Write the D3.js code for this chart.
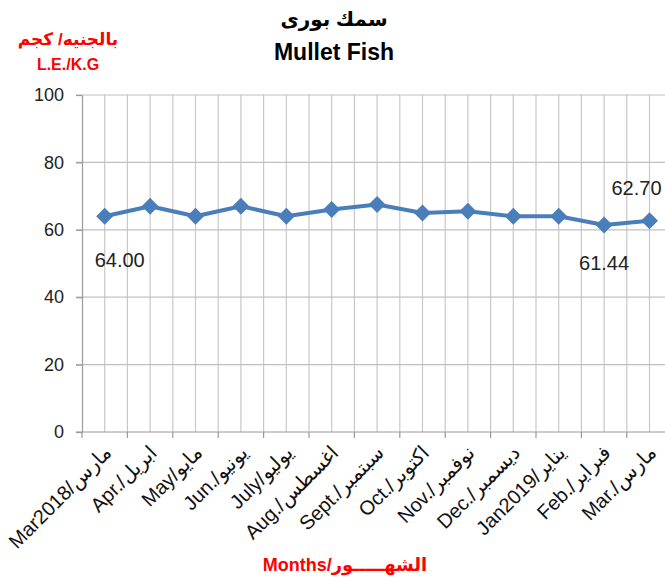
<!DOCTYPE html>
<html>
<head>
<meta charset="utf-8">
<script src="https://d3js.org/d3.v7.min.js"></script>
<style>
  body { margin: 0; background: #fff; }
  text { font-family: "Liberation Sans", Arial, "DejaVu Sans", sans-serif; }
</style>
</head>
<body>
<div id="viz"></div>
<script type="text/javascript">
    // chart data
    var monthsEn = ["Mar2018", "Apr.", "May", "Jun.", "July", "Aug.", "Sept.", "Oct.", "Nov.", "Dec.", "Jan2019", "Feb.", "Mar."];
    var monthsAr = ["مارس", "ابريل", "مايو", "يونيو", "يوليو", "اغسطس", "سبتمبر", "اكتوبر", "نوفمبر", "ديسمبر", "يناير", "فبراير", "مارس"];
    var prices = [64.00, 67, 64, 67, 64, 66, 67.5, 65, 65.5, 64, 64, 61.44, 62.70];
    var yTicks = [0, 20, 40, 60, 80, 100];
    var labelled = [0, 11, 12];   // points that carry a value label

    var width = 665, height = 581;
    var plotLeft = 82, plotBottom = 432, plotTop = 95, step = 45.4;
    var blue = "#4a7ebb";

    var svg = d3.select("#viz")
      .append("svg")
      .attr("width", width)
      .attr("height", height);

    svg.append("rect").attr("width", width).attr("height", height).attr("fill", "#fff");

    var idx = d3.range(prices.length);
    var x = d3.scaleBand().domain(idx).range([plotLeft, plotLeft + step * idx.length]).paddingInner(0).paddingOuter(0);
    var y = d3.scaleLinear().domain([0, 100]).range([plotBottom, plotTop]);
    var cx = function(i){ return x(i) + x.bandwidth() / 2; };

    // vertical gridlines: at category edges and centres
    var vlines = [];
    idx.forEach(function(i){ vlines.push(x(i) + x.bandwidth()); vlines.push(cx(i)); });
    svg.append("g").selectAll("line").data(vlines).enter().append("line")
      .attr("x1", function(d){ return d; }).attr("x2", function(d){ return d; })
      .attr("y1", plotTop).attr("y2", plotBottom)
      .attr("stroke", "#c8c8c8").attr("stroke-width", 1.2);

    // horizontal gridlines
    svg.append("g").selectAll("line").data(yTicks).enter().append("line")
      .attr("x1", plotLeft - 6).attr("x2", width)
      .attr("y1", function(d){ return y(d); }).attr("y2", function(d){ return y(d); })
      .attr("stroke", function(d){ return d === 0 ? "#9a9a9a" : "#c0c0c0"; })
      .attr("stroke-width", 1.2);

    // y axis
    var yAxis = svg.append("g").attr("transform", "translate(" + plotLeft + ",0)")
      .call(d3.axisLeft(y).tickValues(yTicks).tickSize(6).tickSizeOuter(0).tickPadding(12));
    yAxis.select(".domain").attr("stroke", "#9a9a9a").attr("stroke-width", 1.2);
    yAxis.selectAll(".tick line").attr("stroke", "#9a9a9a").attr("stroke-width", 1.2);
    yAxis.selectAll(".tick text").attr("font-size", 18).attr("fill", "#222")
      .style("font-family", "'Liberation Sans', Arial, sans-serif");

    // x ticks at category edges
    svg.append("g").selectAll("line").data(idx.map(function(i){ return x(i); })).enter().append("line")
      .attr("x1", function(d){ return d; }).attr("x2", function(d){ return d; })
      .attr("y1", plotBottom).attr("y2", plotBottom + 6)
      .attr("stroke", "#9a9a9a").attr("stroke-width", 1.2);

    // x labels, rotated
    svg.append("g").selectAll("text").data(idx).enter().append("text")
      .attr("transform", function(i){ return "translate(" + (cx(i) + 8) + "," + (plotBottom + 22) + ") rotate(-45)"; })
      .attr("text-anchor", "end")
      .attr("direction", "ltr")
      .attr("font-size", 20)
      .attr("fill", "#111")
      .text(function(i){ return monthsEn[i] + "/" + monthsAr[i]; });

    // line + markers
    var line = d3.line().x(function(d, i){ return cx(i); }).y(function(d){ return y(d); });
    svg.append("path").datum(prices)
      .attr("d", line).attr("fill", "none")
      .attr("stroke", blue).attr("stroke-width", 4).attr("stroke-linejoin", "round");

    var diamond = d3.symbol().type(d3.symbolSquare).size(144);
    svg.append("g").selectAll("path").data(prices).enter().append("path")
      .attr("d", diamond)
      .attr("transform", function(d, i){ return "translate(" + cx(i) + "," + y(d) + ") rotate(45)"; })
      .attr("fill", blue);

    // value labels (placement offsets per labelled point)
    var labelOffset = { 0: [15, 51], 11: [0, 45], 12: [-13, -26] };
    svg.append("g").selectAll("text").data(labelled).enter().append("text")
      .attr("x", function(i){ return cx(i) + labelOffset[i][0]; })
      .attr("y", function(i){ return y(prices[i]) + labelOffset[i][1]; })
      .attr("text-anchor", "middle")
      .attr("font-size", 20)
      .attr("fill", "#222")
      .text(function(i){ return prices[i].toFixed(2); });

    // titles
    svg.append("text").attr("x", 334).attr("y", 26).attr("text-anchor", "middle")
      .attr("font-size", 20).attr("font-weight", "bold").attr("fill", "#000")
      .text("سمك بورى");
    svg.append("text").attr("x", 334).attr("y", 60).attr("text-anchor", "middle")
      .attr("font-size", 23).attr("font-weight", "bold").attr("fill", "#000")
      .text("Mullet Fish");

    // y unit label
    svg.append("text").attr("x", 68).attr("y", 45).attr("text-anchor", "middle")
      .attr("font-size", 17).attr("font-weight", "bold").attr("fill", "#ff0000")
      .text("بالجنيه/ كجم");
    svg.append("text").attr("x", 68).attr("y", 70).attr("text-anchor", "middle")
      .attr("font-size", 16).attr("font-weight", "bold").attr("fill", "#ff0000")
      .text("L.E./K.G");

    // x title
    svg.append("text").attr("x", 345).attr("y", 571).attr("text-anchor", "middle")
      .attr("direction", "ltr")
      .attr("font-size", 18).attr("font-weight", "bold").attr("fill", "#ff0000")
      .text("Months/الشهـــــور");
</script>
</body>
</html>
